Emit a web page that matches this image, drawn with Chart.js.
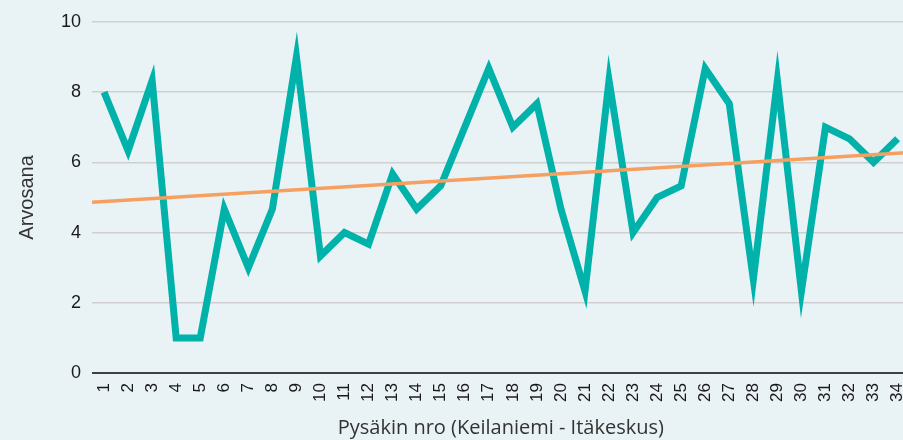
<!DOCTYPE html>
<html>
<head>
<meta charset="utf-8">
<script src="https://cdn.jsdelivr.net/npm/chart.js@4/dist/chart.umd.min.js"></script>
<style>
html,body{margin:0;padding:0;background:#e9f2f5;overflow:hidden;}
#wrap{width:928px;height:440px;}
</style>
</head>
<body>
<div id="wrap"><canvas id="gradeChart"></canvas></div>
<script>
// stops 1..34, average grade per stop
const stops = [1,2,3,4,5,6,7,8,9,10,11,12,13,14,15,16,17,18,19,20,21,22,23,24,25,26,27,28,29,30,31,32,33,34];
const grades = [8,6.33,8.33,1,1,4.67,3,4.67,9,3.33,4,3.67,5.67,4.67,5.33,7,8.67,7,7.67,4.67,2.33,8.33,4,5,5.33,8.67,7.67,2.67,8.33,2.33,7,6.67,6,6.67];
// linear trend, values at the two ends of the axis
const trendX = [0.5,34.5];
const trendY = [4.86,6.28];
const yTicks = [0,2,4,6,8,10];

const ctx = document.getElementById("gradeChart");

const chart = new Chart(ctx,{

type:"line",

data:{
datasets:[
{
label:"Trendi",
data:trendX.map((x,i)=>({x:x,y:trendY[i]})),
borderColor:"#f5a060",
borderWidth:3.5,
pointRadius:0,
order:0
},
{
label:"Arvosana",
data:stops.map((s,i)=>({x:s,y:grades[i]})),
borderColor:"#00b2a9",
borderWidth:7,
pointRadius:0,
tension:0,
order:1
}
]
},

options:{
responsive:true,
maintainAspectRatio:false,
animation:false,
layout:{padding:{top:13,left:11,right:0,bottom:0}},
plugins:{legend:{display:false},tooltip:{enabled:false}},
scales:{
x:{
type:"linear",
min:0.5,
max:34.5,
afterBuildTicks:axis=>{axis.ticks=stops.map(v=>({value:v}));},
grid:{display:false,drawTicks:false},
border:{display:false},
ticks:{
autoSkip:false,
maxRotation:90,
minRotation:90,
padding:10,
color:"#1a1a1a",
font:{family:"Liberation Sans",size:17}
},
title:{
display:true,
text:"Pysäkin nro (Keilaniemi - Itäkeskus)",
color:"#333333",
font:{family:"Open Sans",size:20},
padding:{top:4,bottom:0}
}
},
y:{
min:0,
max:10,
afterBuildTicks:axis=>{axis.ticks=yTicks.map(v=>({value:v}));},
grid:{
color:ctx=>ctx.tick.value===0?"#404040":"#cfcfcf",
lineWidth:ctx=>ctx.tick.value===0?2:1.5,
drawTicks:false
},
border:{display:false},
ticks:{
padding:11,
color:"#1a1a1a",
font:{family:"Liberation Sans",size:18}
},
title:{
display:true,
text:"Arvosana",
color:"#333333",
font:{family:"Liberation Sans",size:20},
padding:{bottom:11}
}
}
}
}

});
</script>
</body>
</html>
